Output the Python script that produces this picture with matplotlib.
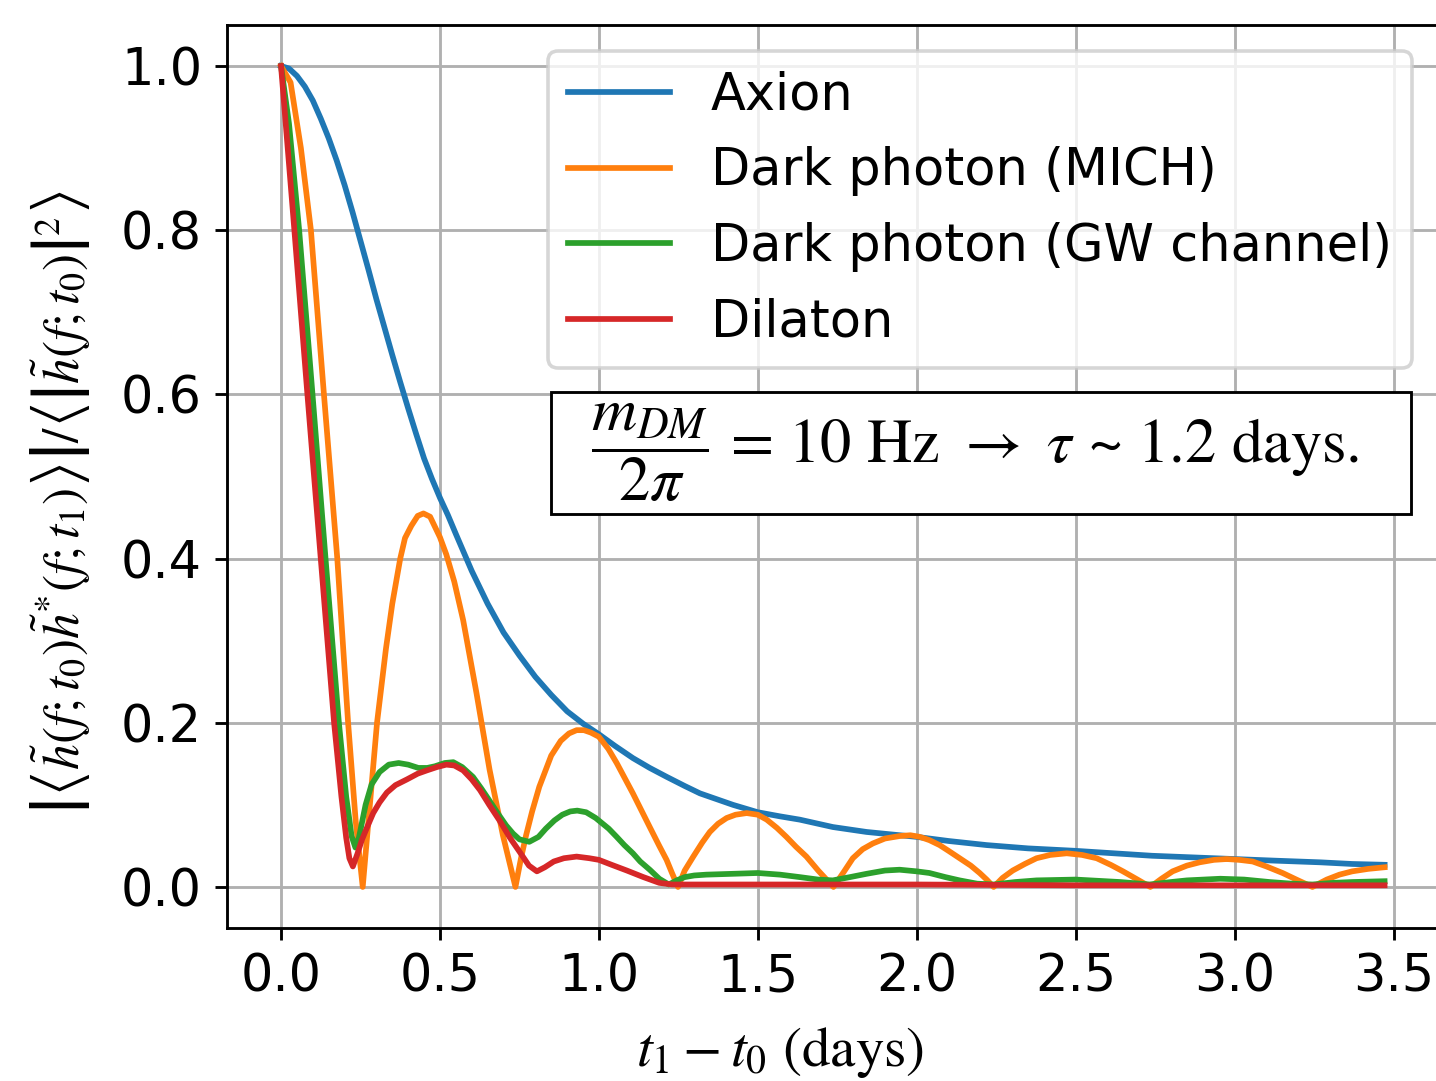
import numpy as np
import matplotlib
matplotlib.use("Agg")
import matplotlib.pyplot as plt
from matplotlib.patches import Rectangle

# Values (time in days, normalised correlation)
axion_t = [0.0, 0.025, 0.05, 0.075, 0.1, 0.125, 0.15, 0.175, 0.2, 0.225,
           0.25, 0.275, 0.3, 0.325, 0.35, 0.375, 0.4, 0.425, 0.45, 0.475,
           0.5, 0.525, 0.55, 0.6, 0.65, 0.7, 0.75, 0.8, 0.85, 0.9, 0.95,
           1.0, 1.05, 1.107, 1.16, 1.214, 1.27, 1.318, 1.37, 1.422, 1.5,
           1.57, 1.632, 1.736, 1.842, 1.92, 2.0, 2.1, 2.22, 2.35, 2.5,
           2.62, 2.74, 2.87, 3.0, 3.13, 3.27, 3.37, 3.472]
axion_y = [1.0, 0.997, 0.988, 0.975, 0.958, 0.936, 0.912, 0.885, 0.855,
           0.822, 0.787, 0.752, 0.716, 0.682, 0.648, 0.615, 0.583, 0.552,
           0.522, 0.497, 0.474, 0.453, 0.430, 0.385, 0.345, 0.31, 0.282,
           0.256, 0.234, 0.214, 0.199, 0.186, 0.172, 0.157, 0.145, 0.134,
           0.123, 0.114, 0.107, 0.100, 0.091, 0.086, 0.082, 0.073, 0.067,
           0.064, 0.061, 0.056, 0.051, 0.047, 0.044, 0.041, 0.038, 0.036,
           0.034, 0.032, 0.030, 0.028, 0.027]

mich_t = [0.0, 0.03, 0.0625, 0.094, 0.135, 0.177, 0.211, 0.235, 0.257,
          0.275, 0.302, 0.33, 0.35, 0.375, 0.39, 0.41, 0.43, 0.448, 0.469,
          0.5, 0.52, 0.545, 0.573, 0.615, 0.656, 0.698, 0.7375, 0.755, 0.771,
          0.79, 0.8125, 0.85, 0.88, 0.906, 0.93, 0.953, 0.975, 1.0, 1.03,
          1.056, 1.107, 1.16, 1.19, 1.213, 1.23, 1.249, 1.27, 1.297, 1.325,
          1.349, 1.375, 1.402, 1.43, 1.465, 1.5, 1.528, 1.56, 1.59, 1.62,
          1.653, 1.69, 1.738, 1.77, 1.799, 1.83, 1.862, 1.9, 1.946, 1.98,
          2.01, 2.04, 2.072, 2.1, 2.135, 2.17, 2.198, 2.22, 2.242, 2.27,
          2.302, 2.34, 2.377, 2.42, 2.472, 2.52, 2.566, 2.61, 2.649, 2.69,
          2.735, 2.77, 2.805, 2.85, 2.89, 2.935, 2.975, 3.015, 3.057, 3.1,
          3.151, 3.2, 3.245, 3.29, 3.33, 3.37, 3.42, 3.472]
mich_y = [1.0, 0.98, 0.90, 0.80, 0.60, 0.40, 0.20, 0.08, 0.0,
          0.08, 0.20, 0.29, 0.345, 0.40, 0.425, 0.44, 0.452, 0.455, 0.451,
          0.426, 0.405, 0.372, 0.325, 0.236, 0.143, 0.063, 0.0, 0.035, 0.063,
          0.092, 0.122, 0.16, 0.178, 0.187, 0.191, 0.191, 0.188, 0.183, 0.168,
          0.151, 0.114, 0.073, 0.05, 0.033, 0.017, 0.0, 0.02, 0.037, 0.054,
          0.067, 0.077, 0.084, 0.088, 0.090, 0.088, 0.082, 0.072, 0.061, 0.049,
          0.037, 0.02, 0.0, 0.018, 0.035, 0.046, 0.053, 0.059, 0.062, 0.063,
          0.061, 0.057, 0.051, 0.044, 0.035, 0.026, 0.017, 0.009, 0.0, 0.011,
          0.020, 0.028, 0.035, 0.039, 0.041, 0.039, 0.035, 0.027, 0.019, 0.01,
          0.0, 0.01, 0.019, 0.026, 0.030, 0.033, 0.034, 0.033, 0.031, 0.025,
          0.017, 0.008, 0.0, 0.009, 0.015, 0.019, 0.022, 0.024]

gw_t = [0.0, 0.025, 0.057, 0.099, 0.14, 0.182, 0.205, 0.222, 0.234, 0.245,
        0.266, 0.285, 0.31, 0.339, 0.37, 0.4, 0.432, 0.46, 0.484, 0.515,
        0.542, 0.57, 0.604, 0.63, 0.656, 0.683, 0.708, 0.73, 0.75, 0.781,
        0.81, 0.833, 0.86, 0.885, 0.91, 0.932, 0.96, 0.99, 1.031, 1.056,
        1.08, 1.107, 1.13, 1.16, 1.19, 1.22, 1.245, 1.27, 1.3, 1.338, 1.42,
        1.5, 1.57, 1.632, 1.69, 1.736, 1.79, 1.842, 1.9, 1.946, 2.0, 2.04,
        2.09, 2.135, 2.19, 2.242, 2.31, 2.377, 2.5, 2.64, 2.733, 2.8, 2.85,
        2.955, 3.03, 3.11, 3.18, 3.245, 3.31, 3.37, 3.472]
gw_y = [1.0, 0.93, 0.80, 0.60, 0.40, 0.20, 0.11, 0.062, 0.048, 0.06,
        0.10, 0.125, 0.14, 0.149, 0.151, 0.149, 0.145, 0.145, 0.147, 0.151,
        0.152, 0.146, 0.134, 0.12, 0.105, 0.089, 0.075, 0.065, 0.058, 0.055,
        0.061, 0.071, 0.081, 0.088, 0.092, 0.093, 0.091, 0.084, 0.071, 0.061,
        0.051, 0.041, 0.031, 0.021, 0.01, 0.003, 0.008, 0.012, 0.014, 0.015,
        0.016, 0.017, 0.015, 0.012, 0.009, 0.008, 0.012, 0.016, 0.02, 0.021,
        0.019, 0.017, 0.012, 0.008, 0.004, 0.003, 0.006, 0.008, 0.009, 0.006,
        0.003, 0.006, 0.008, 0.010, 0.009, 0.006, 0.004, 0.003, 0.005, 0.006,
        0.007]

dil_t = [0.0, 0.042, 0.083, 0.125, 0.167, 0.19, 0.205, 0.215, 0.226, 0.24,
         0.255, 0.27, 0.29, 0.31, 0.333, 0.36, 0.396, 0.43, 0.459, 0.49,
         0.52, 0.545, 0.573, 0.6, 0.626, 0.655, 0.689, 0.72, 0.752, 0.78,
         0.805, 0.83, 0.858, 0.89, 0.93, 0.97, 1.0, 1.04, 1.088, 1.14, 1.19,
         1.23, 1.318, 1.6, 2.0, 2.5, 3.0, 3.472]
dil_y = [1.0, 0.80, 0.60, 0.40, 0.20, 0.11, 0.06, 0.035, 0.025, 0.04,
         0.058, 0.072, 0.09, 0.103, 0.115, 0.124, 0.131, 0.138, 0.142, 0.146,
         0.149, 0.148, 0.142, 0.131, 0.118, 0.10, 0.08, 0.06, 0.042, 0.026,
         0.019, 0.024, 0.031, 0.035, 0.037, 0.035, 0.033, 0.027, 0.02, 0.012,
         0.005, 0.003, 0.003, 0.003, 0.003, 0.002, 0.002, 0.002]

labels = ["Axion", "Dark photon (MICH)", "Dark photon (GW channel)", "Dilaton"]
colors = ["C0", "C1", "C2", "C3"]

plt.rcParams["mathtext.fontset"] = "stix"

W, H = 1436, 1081
fig = plt.figure(figsize=(W / 257, H / 257), dpi=257)

# axes box in pixels of the reference (right edge lies just outside)
left, right, top, bottom = 227, 1438, 25, 928
ax = fig.add_axes([left / W, 1 - bottom / H, (right - left) / W, (bottom - top) / H])

series = [(axion_t, axion_y), (mich_t, mich_y), (gw_t, gw_y), (dil_t, dil_y)]
for (t, y), lab, c in zip(series, labels, colors):
    ax.plot(t, y, color=c, label=lab, lw=1.6, solid_joinstyle="round")

ax.set_xlim(-0.17, 3.64)
ax.set_ylim(-0.05, 1.05)
ax.set_xticks(np.arange(0, 3.51, 0.5))
ax.set_yticks(np.arange(0, 1.01, 0.2))
ax.tick_params(labelsize=14.3)
ax.grid(True)

ax.legend(loc="upper right", fontsize=14.3)

# annotation box
bx0, bx1, by0, by1 = 551, 1411, 392, 514
fig.patches.append(Rectangle((bx0 / W, 1 - by1 / H), (bx1 - bx0) / W, (by1 - by0) / H,
                             transform=fig.transFigure, facecolor="white",
                             edgecolor="black", lw=0.8, zorder=5))
fig.text((bx0 + bx1) / 2 / W - 0.004, 1 - (by0 + by1) / 2 / H,
         r"$\dfrac{m_{DM}}{2\pi}$ = 10 Hz $\rightarrow$ $\tau$ ~ 1.2 days.",
         ha="center", va="center", fontsize=17.5, family="STIXGeneral", zorder=6)

# axis labels
fig.text(780 / W, 1 - 1053 / H, r"$t_1 - t_0\ \mathrm{(days)}$",
         ha="center", va="center", fontsize=16)
fig.text(60 / W, 1 - 502 / H,
         r"$\left|\left\langle\tilde{h}(f;t_0)\tilde{h}^{*}(f;t_1)\right\rangle\right| / "
         r"\left\langle\left|\tilde{h}(f;t_0)\right|^2\right\rangle$",
         rotation=90, ha="center", va="center", fontsize=14.4)

fig.savefig("out.png", dpi=257)
